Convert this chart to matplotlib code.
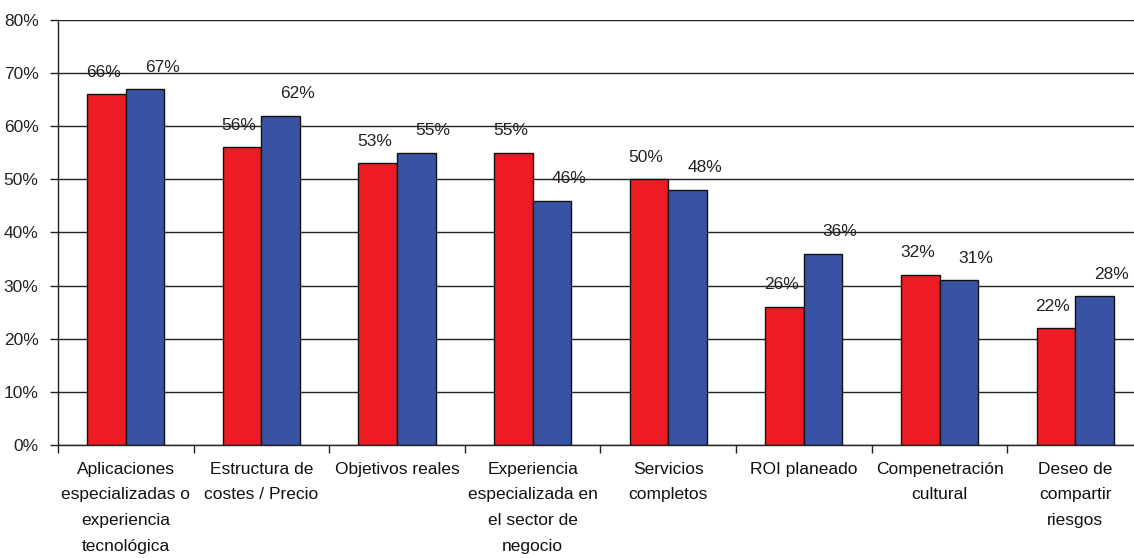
import matplotlib
matplotlib.use("Agg")
import matplotlib.pyplot as plt
import numpy as np

categories = [
    "Aplicaciones\nespecializadas o\nexperiencia\ntecnológica",
    "Estructura de\ncostes / Precio",
    "Objetivos reales",
    "Experiencia\nespecializada en\nel sector de\nnegocio",
    "Servicios\ncompletos",
    "ROI planeado",
    "Compenetración\ncultural",
    "Deseo de\ncompartir\nriesgos",
]
series_red = [66, 56, 53, 55, 50, 26, 32, 22]
series_blue = [67, 62, 55, 46, 48, 36, 31, 28]
ytick_labels = ["0%", "10%", "20%", "30%", "40%", "50%", "60%", "70%", "80%"]

RED = "#ED1C24"
BLUE = "#3953A4"
FONT = ["Liberation Sans Narrow", "Liberation Sans", "DejaVu Sans"]
plt.rcParams["font.family"] = FONT
FS = 12.5

fig = plt.figure(figsize=(11.34, 5.58), dpi=100)
ax = fig.add_axes([0.0511, 0.2025, 0.9568, 0.7617])

n = len(categories)
x = np.arange(n)
w = 0.284
ax.set_axisbelow(True)
ax.yaxis.grid(True, color="#222222", linewidth=1.0)

ax.bar(x - w / 2, series_red, w, color=RED, edgecolor="#111111", linewidth=1.0)
ax.bar(x + w / 2, series_blue, w, color=BLUE, edgecolor="#111111", linewidth=1.0)

for xi, v in zip(x - w / 2, series_red):
    ax.annotate(f"{v}%", (xi, v), xytext=(-3, 22), textcoords="offset pixels",
                ha="center", va="center", fontsize=FS, color="#222222")
for xi, v in zip(x + w / 2, series_blue):
    ax.annotate(f"{v}%", (xi, v), xytext=(17, 22), textcoords="offset pixels",
                ha="center", va="center", fontsize=FS, color="#222222")

ax.set_xlim(-0.5, n - 0.5)
ax.set_ylim(0, 80)
ax.set_yticks(np.arange(0, 81, 10))
ax.set_yticklabels(ytick_labels, fontsize=FS, color="#222222")
ax.tick_params(axis="y", length=6, width=1, pad=8, color="#222222")

ax.set_xticks(x)
ax.set_xticklabels(categories, fontsize=FS, color="#111111", linespacing=1.9)
ax.tick_params(axis="x", which="major", length=0, pad=12)
ax.set_xticks(np.arange(-0.5, n + 0.5, 1), minor=True)
ax.tick_params(axis="x", which="minor", length=6, width=1, color="#222222")

for s in ["top", "right"]:
    ax.spines[s].set_visible(False)
for s in ["left", "bottom"]:
    ax.spines[s].set_color("#222222")
    ax.spines[s].set_linewidth(1.0)

fig.savefig("out.png", dpi=100)
